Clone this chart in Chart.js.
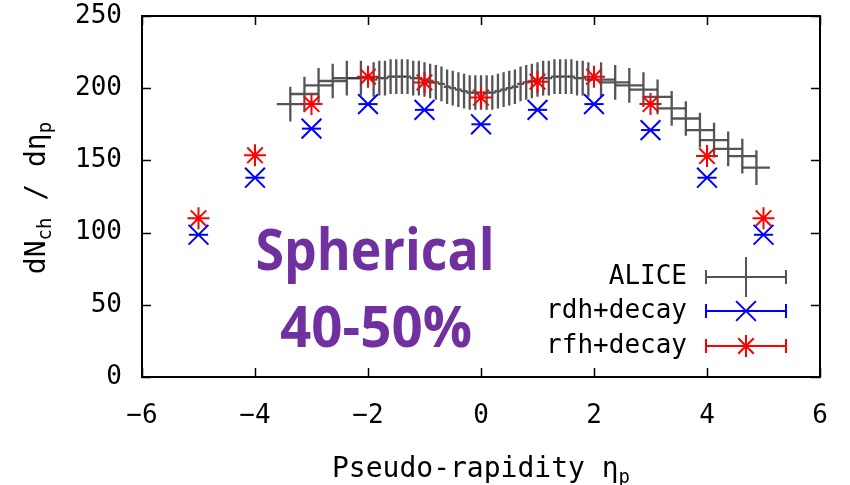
<!DOCTYPE html>
<html>
<head>
<meta charset="utf-8">
<script src="https://cdn.jsdelivr.net/npm/chart.js@4.4.1/dist/chart.umd.min.js"></script>
<style>
  html, body { margin: 0; padding: 0; background: #fff; }
</style>
</head>
<body>
<canvas id="chart" width="850" height="485"></canvas>
<script>
const xTicks = [-6, -4, -2, 0, 2, 4, 6];
const yTicks = [0, 50, 100, 150, 200, 250];

const aliceEta = [
  -3.375, -3.125, -2.875, -2.625, -2.375, -2.125,
  -1.9, -1.8, -1.7, -1.6, -1.5, -1.4, -1.3, -1.2, -1.1, -1.0,
  -0.9, -0.8, -0.7, -0.6, -0.5, -0.4, -0.3, -0.2, -0.1, 0.0,
  0.1, 0.2, 0.3, 0.4, 0.5, 0.6, 0.7, 0.8, 0.9, 1.0,
  1.1, 1.2, 1.3, 1.4, 1.5, 1.6, 1.7, 1.8, 1.9,
  2.125, 2.375, 2.625, 2.875, 3.125, 3.375, 3.625, 3.875, 4.125, 4.375, 4.625, 4.875
];
const aliceN = [
  189, 196, 202, 205, 207, 207,
  206, 207, 207, 208, 208, 208, 208, 207, 207, 206,
  205, 204, 203, 201, 200, 199, 198, 197, 197, 197,
  197, 197, 198, 199, 200, 201, 203, 204, 205, 206,
  207, 207, 208, 208, 208, 208, 207, 207, 206,
  206, 204, 202, 199, 194, 186, 179, 171, 164, 158, 153, 145
];
const aliceErrN = 12;

// model curves
const modelEta = [-5, -4, -3, -2, -1, 0, 1, 2, 3, 4, 5];
const rdhN = [98.5, 138, 172, 189, 185, 175, 185, 189, 171, 138, 98.5];
const rfhN = [110, 153.5, 189, 208, 204, 193.5, 204.5, 208, 189, 153, 110];
const modelErrEta = 0.17;

const MONO = '"DejaVu Sans Mono", monospace';
const GREY = 'rgba(55,55,55,0.85)';

const aliceData = aliceEta.map((e, i) => ({
  x: e, y: aliceN[i],
  xerr: Math.abs(e) < 1.95 ? 0.06 : 0.24,
  yerr: aliceErrN
}));
const rdhData = modelEta.map((e, i) => ({ x: e, y: rdhN[i], xerr: modelErrEta, yerr: 0 }));
const rfhData = modelEta.map((e, i) => ({ x: e, y: rfhN[i], xerr: 0, yerr: 0 }));

// error bars drawn through the chart scales
const errorBars = {
  id: 'errorBars',
  beforeDatasetsDraw(chart) {
    const { ctx, chartArea, scales: { x, y } } = chart;
    ctx.save();
    ctx.beginPath();
    ctx.rect(chartArea.left, chartArea.top, chartArea.width, chartArea.height);
    ctx.clip();
    chart.data.datasets.forEach(ds => {
      ctx.strokeStyle = ds.barColor;
      ctx.lineWidth = ds.barWidth || 2;
      ds.data.forEach(d => {
        const px = x.getPixelForValue(d.x), py = y.getPixelForValue(d.y);
        ctx.beginPath();
        if (d.xerr) {
          ctx.moveTo(x.getPixelForValue(d.x - d.xerr), py);
          ctx.lineTo(x.getPixelForValue(d.x + d.xerr), py);
        }
        if (d.yerr) {
          ctx.moveTo(px, y.getPixelForValue(d.y - d.yerr));
          ctx.lineTo(px, y.getPixelForValue(d.y + d.yerr));
        }
        ctx.stroke();
      });
    });
    ctx.restore();
  }
};

function drawText(ctx, parts, x, y, align) {
  // parts: [text, size, dy]
  let total = 0;
  parts.forEach(p => { ctx.font = p[1] + 'px ' + MONO; total += ctx.measureText(p[0]).width; });
  let cx = align === 'center' ? x - total / 2 : x;
  parts.forEach(p => {
    ctx.font = p[1] + 'px ' + MONO;
    ctx.fillText(p[0], cx, y + p[2]);
    cx += ctx.measureText(p[0]).width;
  });
}

const decorations = {
  id: 'decorations',
  afterDraw(chart) {
    const { ctx, chartArea: a, scales: { x, y } } = chart;
    ctx.save();
    // frame and inward ticks on all sides
    ctx.strokeStyle = '#000';
    ctx.lineWidth = 2;
    ctx.strokeRect(a.left, a.top, a.right - a.left, a.bottom - a.top);
    ctx.lineWidth = 1.5;
    ctx.beginPath();
    xTicks.forEach(v => {
      const px = Math.round(x.getPixelForValue(v)) + 0.5;
      ctx.moveTo(px, a.bottom); ctx.lineTo(px, a.bottom - 9);
      ctx.moveTo(px, a.top); ctx.lineTo(px, a.top + 9);
    });
    yTicks.forEach(v => {
      const py = Math.round(y.getPixelForValue(v)) + 0.5;
      ctx.moveTo(a.left, py); ctx.lineTo(a.left + 9, py);
      ctx.moveTo(a.right, py); ctx.lineTo(a.right - 9, py);
    });
    ctx.stroke();

    // axis titles
    ctx.fillStyle = '#000';
    ctx.textBaseline = 'alphabetic';
    drawText(ctx, [['Pseudo-rapidity η', 28, 0], ['p', 19, 6]], (a.left + a.right) / 2, 477, 'center');
    ctx.save();
    ctx.translate(45, 198);
    ctx.rotate(-Math.PI / 2);
    drawText(ctx, [['dN', 28, 0], ['ch', 19, 6], [' / ', 28, 0], ['dη', 28, 0], ['p', 19, 6]], 0, 0, 'center');
    ctx.restore();

    // legend
    const rows = [
      { label: 'ALICE', color: '#555', y: 277, marker: 'bar' },
      { label: 'rdh+decay', color: '#0000ff', y: 311, marker: 'crossRot' },
      { label: 'rfh+decay', color: '#ff0000', y: 346, marker: 'star' }
    ];
    rows.forEach(r => {
      ctx.fillStyle = '#000';
      ctx.font = '26px ' + MONO;
      ctx.textAlign = 'right';
      ctx.textBaseline = 'middle';
      ctx.fillText(r.label, 687, r.y);
      ctx.strokeStyle = r.color;
      ctx.lineWidth = 2;
      ctx.beginPath();
      ctx.moveTo(706, r.y); ctx.lineTo(786, r.y);
      ctx.moveTo(706, r.y - 7); ctx.lineTo(706, r.y + 7);
      ctx.moveTo(786, r.y - 7); ctx.lineTo(786, r.y + 7);
      if (r.marker === 'bar') { ctx.moveTo(746, r.y - 20); ctx.lineTo(746, r.y + 20); }
      ctx.stroke();
      if (r.marker !== 'bar') {
        Chart.helpers.drawPoint(ctx, { pointStyle: r.marker, radius: r.marker === 'star' ? 11 : 14, rotation: 0, borderWidth: 2 }, 746, r.y);
      }
    });

    // annotation
    ctx.fillStyle = '#7030a0';
    ctx.textAlign = 'left';
    ctx.textBaseline = 'alphabetic';
    [['Spherical', 375, 270, 239], ['40-50%', 376, 347, 192]].forEach(([t, cx, by, w]) => {
      ctx.font = 'bold 58px "Open Sans", sans-serif';
      const m = ctx.measureText(t).width;
      ctx.save();
      ctx.translate(cx - w / 2, by);
      ctx.scale(w / m, 1);
      ctx.fillText(t, 0, 0);
      ctx.restore();
    });
    ctx.restore();
  }
};

const tickLabel = v => String(v).replace('-', '\u2212');

new Chart(document.getElementById('chart'), {
  type: 'scatter',
  data: {
    datasets: [
      { label: 'ALICE', data: aliceData, pointRadius: 0, pointHoverRadius: 0, barColor: GREY, barWidth: 2.3 },
      { label: 'rdh+decay', data: rdhData, pointStyle: 'crossRot', pointRadius: 14, borderColor: '#0000ff', borderWidth: 2, barColor: '#0000ff' },
      { label: 'rfh+decay', data: rfhData, pointStyle: 'star', pointRadius: 11, borderColor: '#ff0000', borderWidth: 2, barColor: '#ff0000' }
    ]
  },
  options: {
    responsive: false,
    animation: false,
    layout: { padding: { top: 15, right: 30, left: 0, bottom: 0 } },
    plugins: { legend: { display: false }, tooltip: { enabled: false } },
    scales: {
      x: {
        min: -6, max: 6,
        grid: { display: false },
        border: { display: false },
        afterBuildTicks: s => { s.ticks = xTicks.map(v => ({ value: v })); },
        ticks: { font: { family: MONO, size: 26 }, color: '#000', padding: 16, maxRotation: 0, callback: tickLabel },
        afterFit: s => { s.height = 108; s.paddingLeft = 0; s.paddingRight = 0; }
      },
      y: {
        min: 0, max: 250,
        grid: { display: false },
        border: { display: false },
        afterBuildTicks: s => { s.ticks = yTicks.map(v => ({ value: v })); },
        ticks: { font: { family: MONO, size: 26 }, color: '#000', padding: 12, callback: tickLabel },
        afterFit: s => { s.width = 142; s.paddingTop = 0; s.paddingBottom = 0; }
      }
    }
  },
  plugins: [errorBars, decorations]
});
</script>
</body>
</html>
